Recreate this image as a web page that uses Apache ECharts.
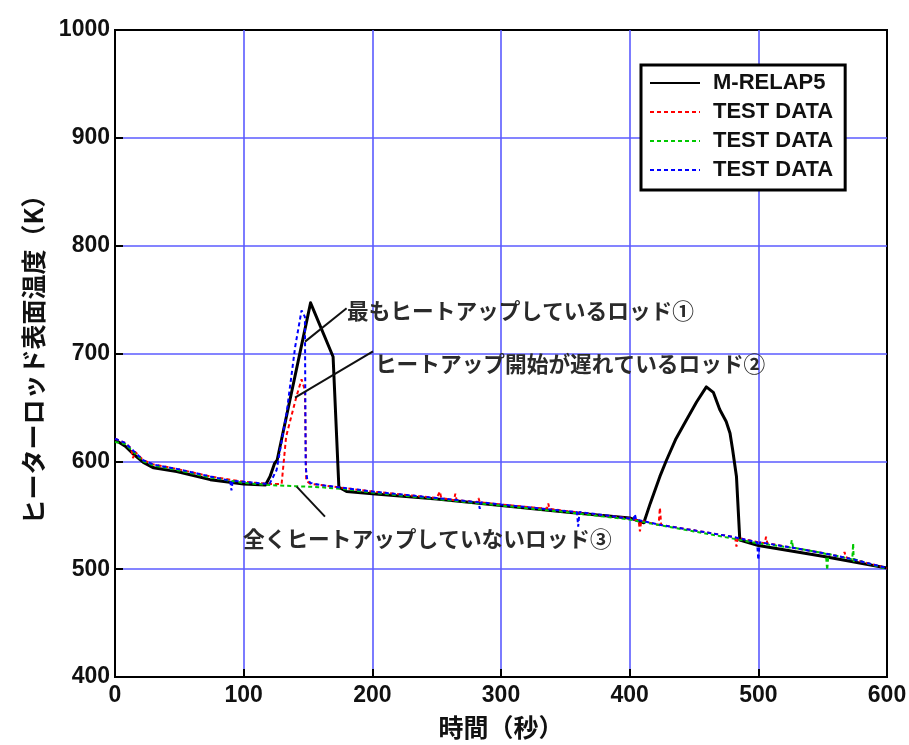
<!DOCTYPE html>
<html><head><meta charset="utf-8">
<script src="https://cdn.jsdelivr.net/npm/echarts@6/dist/echarts.min.js"></script>
<style>html,body{margin:0;padding:0;background:#fff}#c{width:909px;height:745px}</style>
</head><body><div id="c"></div>
<script>
// ---- data (time in s, temperature in K) ----
const xTicks = [0, 100, 200, 300, 400, 500, 600];
const yTicks = [400, 500, 600, 700, 800, 900, 1000];

const relapT = [0, 8, 15, 22, 30, 48, 74, 100, 117, 120.5, 124, 126, 152, 169.5, 174, 180, 200, 250, 300, 350, 400, 411,
  416, 423.5, 428.6, 436, 444, 452, 459.6, 465, 470, 475, 478, 480, 483, 485.6, 500, 550, 600];
const relapV = [620, 614, 606, 599, 594, 590.5, 583, 579, 578, 586, 598, 601, 747, 697, 576, 572, 570, 565, 559, 553, 547.5, 543,
  561, 586, 601, 621, 638, 655, 669, 664, 648, 637, 626, 611, 586, 527, 522, 512, 501];

const redT = [0, 8, 12.5, 14, 15.5, 22, 30, 48, 74, 100, 120, 129.5, 133, 141, 145, 147.6, 148.6, 152, 160, 180,
  200, 250, 251.5, 252.5, 253.5, 263.5, 264.5, 265.5, 281.5, 282.5, 283.5, 300, 335.7, 336.7, 337.7, 350, 400, 407, 408, 409,
  422.5, 423.5, 424.5, 450, 480, 482, 483, 484, 500, 505, 506, 507, 526, 550, 566, 567, 568, 574, 600];
const redV = [621, 617, 612, 603, 609, 601, 597, 593, 586, 581, 579, 579, 623, 660, 676, 666, 582, 579, 578, 575,
  572, 566, 566, 572, 566, 564, 570, 564, 562, 566, 562, 560, 556, 561, 556, 554, 547, 545, 535, 545,
  541, 557, 541, 536, 530, 529, 521, 529, 525, 524, 530, 524, 520, 515, 511, 516, 511, 509, 501];

const greenT = [0, 8, 15, 22, 30, 48, 74, 100, 120, 140, 160, 180, 200, 250, 300, 350, 400, 450, 500, 525, 526, 527,
  550, 552.5, 553.5, 554.5, 573, 573.7, 574.2, 575, 600];
const greenV = [618, 616, 608, 600, 596, 592, 585, 580, 578, 577, 576, 574, 571, 565, 559, 553, 546, 535, 524, 520, 527, 520,
  515, 514, 499, 514, 509, 524, 506, 509, 500];

const blueT = [0, 8, 15, 22, 30, 48, 74, 89.5, 90.5, 91.5, 100, 120, 121.8, 125.6, 133.4, 140, 145, 147.6, 148.2, 149.4,
  152, 160, 180, 200, 250, 282.5, 283.5, 284.5, 300, 350, 359, 360, 361, 400, 403, 404, 405, 424, 450, 480,
  499, 500, 501, 526, 550, 574, 600];
const blueV = [621, 617, 609, 601, 597, 593, 586, 582, 573, 582, 581, 579, 583, 592, 645, 706, 740, 734, 595, 583,
  580, 578, 575, 572, 566, 562, 556, 562, 560, 554, 553, 539.5, 553, 547, 546, 551, 546, 541, 536, 530,
  525, 508.5, 525, 520, 515, 509, 501];

const seriesNames = ['M-RELAP5', 'TEST DATA', 'TEST DATA ', 'TEST DATA  '];
const annoTexts = ['最もヒートアップしているロッド①', 'ヒートアップ開始が遅れているロッド②', '全くヒートアップしていないロッド③'];

// ---- chart ----
const NUM = '"Liberation Sans",Arial,sans-serif';
const JP = '"Noto Sans CJK JP","Noto Sans CJK SC",sans-serif';
const pairs = (t, v) => t.map((x, i) => [x, v[i]]);
const chart = echarts.init(document.getElementById('c'), null, {renderer: 'canvas'});

const axisCommon = {
  type: 'value', interval: 100,
  axisLine: {show: true, onZero: false, lineStyle: {color: '#000', width: 2}},
  axisTick: {show: true, inside: true, length: 8, lineStyle: {color: '#000', width: 2}},
  axisLabel: {fontFamily: NUM, fontSize: 23, fontWeight: 'bold', color: '#111', formatter: v => String(v)},
  splitLine: {show: true, showMinLine: false, showMaxLine: false, lineStyle: {color: '#5b5bff', width: 1.6}},
  nameLocation: 'middle',
  nameTextStyle: {fontFamily: JP, fontSize: 25, fontWeight: 'bold', color: '#111'}
};

const dash = [4, 3];
const option = {
  animation: false,
  backgroundColor: '#fff',
  grid: {left: 115, right: 22, top: 30, bottom: 68, containLabel: false, outerBoundsMode: 'none',
         show: true, borderColor: '#000', borderWidth: 2, backgroundColor: 'transparent'},
  xAxis: Object.assign({}, axisCommon, {
    min: xTicks[0], max: xTicks[xTicks.length - 1], name: '時間（秒）', nameGap: 38,
    axisLabel: Object.assign({}, axisCommon.axisLabel, {margin: 7})
  }),
  yAxis: Object.assign({}, axisCommon, {
    min: yTicks[0], max: yTicks[yTicks.length - 1], name: 'ヒーターロッド表面温度（K）', nameGap: 69, nameRotate: 90,
    axisLabel: Object.assign({}, axisCommon.axisLabel, {margin: 5})
  }),
  legend: {
    left: 641, top: 65, orient: 'vertical', selectedMode: false,
    backgroundColor: '#fff', borderColor: '#000', borderWidth: 3, borderRadius: 0,
    padding: [5, 12, 7, 8], itemWidth: 50, itemHeight: 14, itemGap: 3,
    itemStyle: {opacity: 0},
    data: seriesNames,
    formatter: n => n.trim(),
    textStyle: {fontFamily: NUM, fontSize: 22, fontWeight: 'bold', color: '#111', lineHeight: 26, padding: [0, 0, 0, 8]}
  },
  series: [
    {name: seriesNames[0], type: 'line', data: pairs(relapT, relapV), symbol: 'none',
     lineStyle: {color: '#000', width: 3, join: 'round'}, itemStyle: {color: '#000'}},
    {name: seriesNames[1], type: 'line', data: pairs(redT, redV), symbol: 'none',
     lineStyle: {color: '#ff0000', width: 2, type: dash}, itemStyle: {color: '#ff0000'}},
    {name: seriesNames[2], type: 'line', data: pairs(greenT, greenV), symbol: 'none',
     lineStyle: {color: '#00c800', width: 2, type: dash}, itemStyle: {color: '#00c800'}},
    {name: seriesNames[3], type: 'line', data: pairs(blueT, blueV), symbol: 'none',
     lineStyle: {color: '#0000ff', width: 2, type: dash}, itemStyle: {color: '#0000ff'},
     markLine: {
       silent: true, symbol: ['none', 'none'], animation: false,
       lineStyle: {color: '#111', width: 2, type: 'solid'}, label: {show: false},
       emphasis: {disabled: true},
       data: [
         [{coord: [180, 742]}, {coord: [147.7, 711]}],
         [{coord: [200.5, 702]}, {coord: [139.9, 659]}],
         [{coord: [141.2, 576.5]}, {coord: [163.2, 548.7]}]
       ]
     },
     markPoint: {
       silent: true, symbol: 'circle', symbolSize: 0, animation: false,
       label: {show: true, position: 'right', distance: 0, fontFamily: JP, fontSize: 21.7, fontWeight: 'bold', color: '#2a2a2a',
               formatter: p => p.name},
       data: [
         {name: annoTexts[0], coord: [180.3, 739.4]},
         {name: annoTexts[1], coord: [202, 690.3]},
         {name: annoTexts[2], coord: [99.5, 528]}
       ]
     }}
  ]
};
chart.setOption(option);
</script>
</body></html>
